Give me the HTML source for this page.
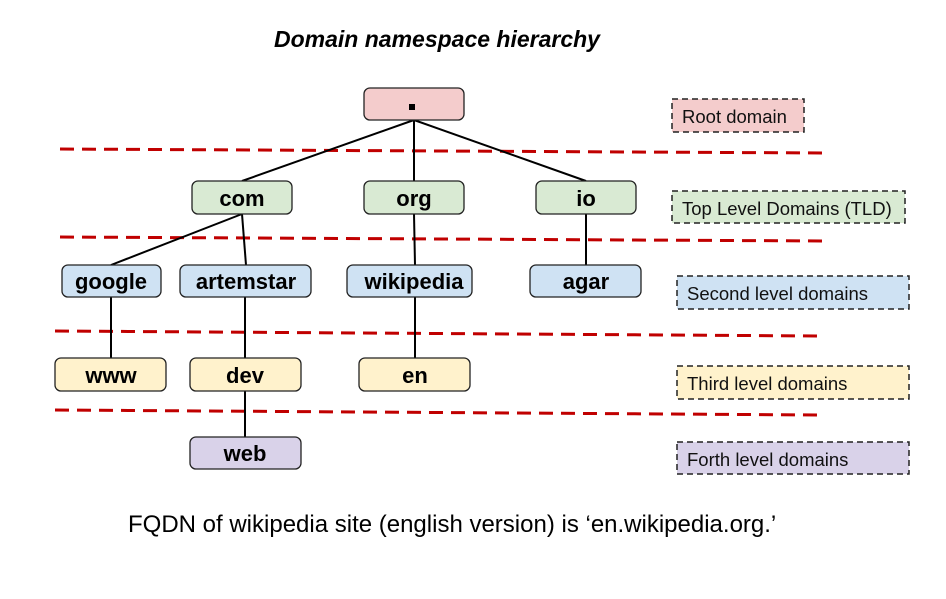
<!DOCTYPE html>
<html><head><meta charset="utf-8"><style>body{margin:0;background:#fff}svg{display:block}</style></head><body>
<svg width="946" height="599" viewBox="0 0 946 599" xmlns="http://www.w3.org/2000/svg" font-family="Liberation Sans, sans-serif">
<text x="437" y="47" text-anchor="middle" font-size="23" font-weight="bold" font-style="italic">Domain namespace hierarchy</text>
<g stroke="#c00000" stroke-width="3" stroke-dasharray="14,8" fill="none">
<line x1="60" y1="149" x2="825" y2="153"/>
<line x1="60" y1="237" x2="825" y2="241"/>
<line x1="55" y1="331" x2="820" y2="336"/>
<line x1="55" y1="410" x2="820" y2="415"/>
</g>
<g stroke="#000" stroke-width="2">
<line x1="414" y1="120" x2="242" y2="181"/>
<line x1="414" y1="120" x2="414" y2="181"/>
<line x1="414" y1="120" x2="586" y2="181"/>
<line x1="242" y1="214" x2="111" y2="265"/>
<line x1="242" y1="214" x2="246" y2="265"/>
<line x1="414" y1="214" x2="415" y2="265"/>
<line x1="586" y1="214" x2="586" y2="265"/>
<line x1="111" y1="297" x2="111" y2="358"/>
<line x1="245" y1="297" x2="245" y2="358"/>
<line x1="415" y1="297" x2="415" y2="358"/>
<line x1="245" y1="391" x2="245" y2="437"/>
</g>
<g stroke="#222" stroke-width="1.3">
<rect x="364" y="88" width="100" height="32" rx="6" fill="#f4cccc"/>
<rect x="192" y="181" width="100" height="33" rx="6" fill="#d9ead3"/>
<rect x="364" y="181" width="100" height="33" rx="6" fill="#d9ead3"/>
<rect x="536" y="181" width="100" height="33" rx="6" fill="#d9ead3"/>
<rect x="62" y="265" width="99" height="32" rx="6" fill="#cfe2f3"/>
<rect x="180" y="265" width="131" height="32" rx="6" fill="#cfe2f3"/>
<rect x="347" y="265" width="125" height="32" rx="6" fill="#cfe2f3"/>
<rect x="530" y="265" width="111" height="32" rx="6" fill="#cfe2f3"/>
<rect x="55" y="358" width="111" height="33" rx="6" fill="#fff2cc"/>
<rect x="190" y="358" width="111" height="33" rx="6" fill="#fff2cc"/>
<rect x="359" y="358" width="111" height="33" rx="6" fill="#fff2cc"/>
<rect x="190" y="437" width="111" height="32" rx="6" fill="#d9d2e9"/>
</g>
<rect x="409" y="104" width="6" height="6" fill="#000"/>
<g font-size="22" font-weight="bold" text-anchor="middle" fill="#000">
<text x="242" y="206">com</text>
<text x="414" y="206">org</text>
<text x="586" y="206">io</text>
<text x="111" y="289">google</text>
<text x="246" y="289">artemstar</text>
<text x="414" y="289">wikipedia</text>
<text x="586" y="289">agar</text>
<text x="111" y="383">www</text>
<text x="245" y="383">dev</text>
<text x="415" y="383">en</text>
<text x="245" y="461">web</text>
</g>
<g stroke="#222" stroke-width="1.5" stroke-dasharray="6,4">
<rect x="672" y="99" width="132" height="33" fill="#f4cccc"/>
<rect x="672" y="191" width="233" height="32" fill="#d9ead3"/>
<rect x="677" y="276" width="232" height="33" fill="#cfe2f3"/>
<rect x="677" y="366" width="232" height="33" fill="#fff2cc"/>
<rect x="677" y="442" width="232" height="32" fill="#d9d2e9"/>
</g>
<g font-size="18.5" fill="#111">
<text x="682" y="123">Root domain</text>
<text x="682" y="215">Top Level Domains (TLD)</text>
<text x="687" y="300">Second level domains</text>
<text x="687" y="390">Third level domains</text>
<text x="687" y="466">Forth level domains</text>
</g>
<text x="128" y="532" font-size="24" fill="#000">FQDN of wikipedia site (english version) is ‘en.wikipedia.org.’</text>
</svg>
</body></html>
